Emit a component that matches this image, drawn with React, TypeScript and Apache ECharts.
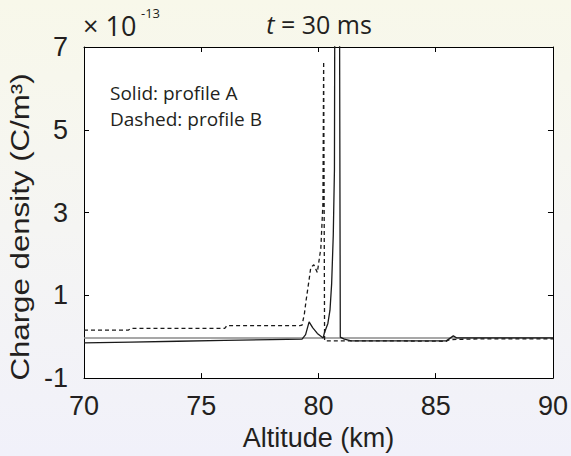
import React, { useEffect, useRef } from "react";
import * as echarts from "echarts";

// Altitude (km) and charge density (×1e-13 C/m³)
const altitudeA = [70, 72, 74, 76, 78, 79.3, 79.45, 79.6, 79.75, 79.95, 80.2, 80.25, 80.4, 80.49, 80.56, 80.63, 80.68, 80.71, 80.88, 80.93, 81.1, 81.4, 83, 85.45, 85.6, 85.75, 85.9, 87, 90];
const densityA = [-0.15, -0.13, -0.11, -0.09, -0.07, -0.06, 0.05, 0.36, 0.22, 0.08, -0.03, 0.09, 0.32, 0.64, 1.27, 2.45, 4.03, 12, 12, -0.01, -0.06, -0.1, -0.1, -0.1, -0.04, 0.02, -0.03, -0.03, -0.03];

const altitudeB = [70, 71.9, 72.0, 76.0, 76.1, 79.2, 79.3, 79.4, 79.47, 79.6, 79.67, 79.8, 79.95, 80.1, 80.19, 80.22, 80.26, 80.3, 81, 83, 85.45, 85.6, 87, 90];
const densityB = [0.16, 0.16, 0.2, 0.2, 0.27, 0.27, 0.28, 0.56, 0.87, 1.38, 1.67, 1.74, 1.55, 2.14, 3.23, 6.65, -0.1, -0.1, -0.1, -0.1, -0.11, -0.07, -0.05, -0.05];

const altitudeRef = [70, 90];
const densityRef = [-0.03, -0.03];

const xMin = 70, xMax = 90, xStep = 5;
const yMin = -1, yMax = 7, yStep = 2;

const scaleBase = "× 10";
const scaleExp = "-13";
const noteSolid = "Solid: profile A";
const noteDashed = "Dashed: profile B";
const xName = "Altitude (km)";
const yName = "Charge density (C/m³)";

const pairs = (xs: number[], ys: number[]) => xs.map((x, i) => [x, ys[i]]);

const TEXT = "#231f20";
const SANS = "'Liberation Sans', Arial, Helvetica, sans-serif";
const MYRIAD = "'Open Sans', 'Noto Sans', sans-serif";

export default function App() {
  const ref = useRef<HTMLDivElement>(null);
  useEffect(() => {
    if (!ref.current) return;
    const chart = echarts.init(ref.current, undefined, { renderer: "svg" });
    const axisCommon = {
      type: "value" as const,
      axisLine: { show: true, onZero: false, lineStyle: { color: "#000", width: 1 } },
      axisTick: { show: true, inside: true, length: 5, lineStyle: { color: "#000", width: 1 } },
      splitLine: { show: false },
    };
    chart.setOption({
      animation: false,
      backgroundColor: new echarts.graphic.LinearGradient(0, 0, 0, 1, [
        { offset: 0, color: "#f8f8ea" },
        { offset: 0.5, color: "#f5f5f3" },
        { offset: 1, color: "#f1f1fa" },
      ]),
      grid: {
        left: 84, right: 15, top: 47, bottom: 70,
        show: true, backgroundColor: "#ffffff", borderWidth: 0,
      },
      xAxis: [
        {
          ...axisCommon,
          position: "bottom",
          min: xMin, max: xMax, interval: xStep,
          axisLabel: { show: true, fontFamily: SANS, fontSize: 27, color: TEXT, margin: 14 },
          name: xName,
          nameLocation: "middle",
          nameGap: 44,
          nameTextStyle: { fontFamily: SANS, fontSize: 27, color: TEXT },
        },
        {
          ...axisCommon,
          position: "top",
          min: xMin, max: xMax, interval: xStep,
          axisLabel: { show: false },
        },
      ],
      yAxis: [
        {
          ...axisCommon,
          position: "left",
          min: yMin, max: yMax, interval: yStep,
          axisLabel: { show: true, fontFamily: SANS, fontSize: 27, color: TEXT, margin: 16 },
        },
        {
          ...axisCommon,
          position: "right",
          min: yMin, max: yMax, interval: yStep,
          axisLabel: { show: false },
        },
      ],
      series: [
        {
          type: "line", name: "reference", data: pairs(altitudeRef, densityRef),
          showSymbol: false, symbol: "none", clip: true,
          lineStyle: { color: "#8a8a8a", width: 1.5 },
        },
        {
          type: "line", name: "profile B", data: pairs(altitudeB, densityB),
          showSymbol: false, symbol: "none", clip: true,
          lineStyle: { color: "#1a1a1a", width: 1.3, type: [4, 3] },
        },
        {
          type: "line", name: "profile A", data: pairs(altitudeA, densityA),
          showSymbol: false, symbol: "none", clip: true,
          lineStyle: { color: "#1a1a1a", width: 1.3 },
        },
      ],
      graphic: [
        {
          type: "text", x: 20, y: 227, rotation: Math.PI / 2, scaleX: 1.25,
          style: { text: yName, fontFamily: SANS, fontSize: 25, fill: TEXT, align: "center", verticalAlign: "middle" },
        },
        {
          type: "text", x: 319, y: 24,
          style: {
            text: "{i|t}{n| = 30 ms}",
            align: "center", verticalAlign: "middle",
            rich: {
              i: { fontFamily: MYRIAD, fontSize: 25, fontStyle: "italic", fill: TEXT },
              n: { fontFamily: MYRIAD, fontSize: 25, fill: TEXT },
            },
          },
          silent: true,
        },
        {
          type: "text", x: 83, y: 25,
          style: { text: scaleBase, fontFamily: MYRIAD, fontSize: 27, fill: TEXT, align: "left", verticalAlign: "middle" },
        },
        {
          type: "text", x: 141, y: 13,
          style: { text: scaleExp, fontFamily: MYRIAD, fontSize: 13, fill: TEXT, align: "left", verticalAlign: "middle" },
        },
        {
          type: "text", x: 110, y: 93,
          style: { text: noteSolid, fontFamily: MYRIAD, fontSize: 19, fill: TEXT, align: "left", verticalAlign: "middle" },
        },
        {
          type: "text", x: 110, y: 119,
          style: { text: noteDashed, fontFamily: MYRIAD, fontSize: 19, fill: TEXT, align: "left", verticalAlign: "middle" },
        },
      ],
    });
    return () => chart.dispose();
  }, []);
  return <div ref={ref} style={{ position: "absolute", left: 0, top: 0, width: 571, height: 456 }} />;
}
